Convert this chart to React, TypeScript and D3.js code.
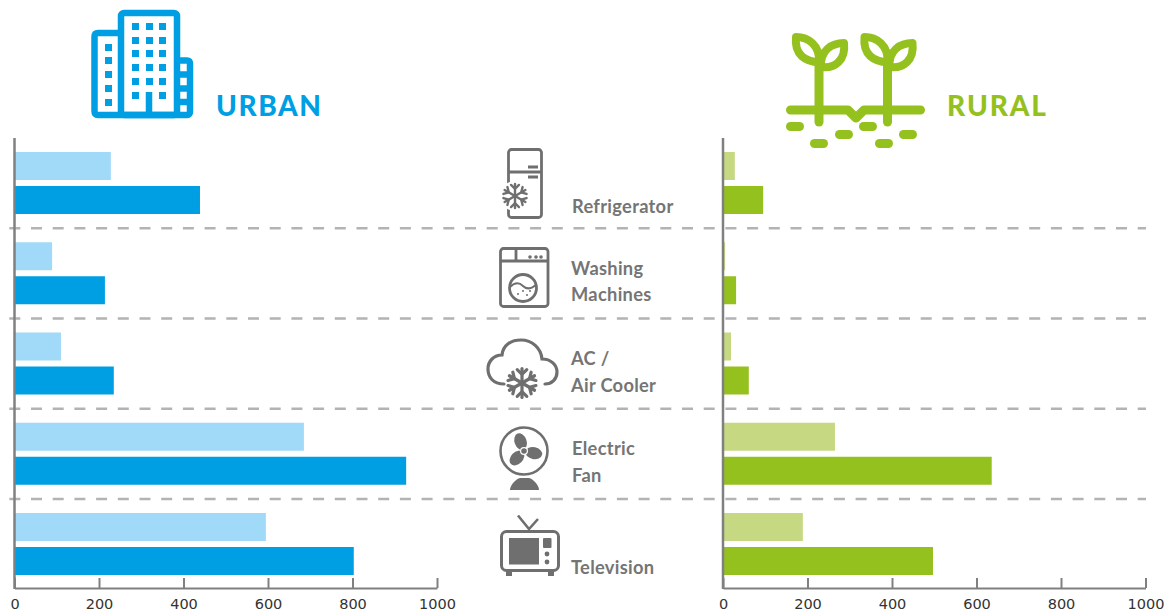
import React, { useEffect, useRef } from 'react';
import * as d3 from 'd3';

// Values. The source has no legend, so the two bars per row
// are just called light (upper) and dark (lower).
const categories = ['Refrigerator', 'Washing Machines', 'AC / Air Cooler', 'Electric Fan', 'Television'];
const seriesNames = ['light', 'dark'];
const urbanLight = [228, 89, 110, 685, 595];
const urbanDark = [439, 214, 235, 927, 803];
const ruralLight = [28, 5, 19, 265, 189];
const ruralDark = [95, 31, 61, 636, 497];
const tickValues = [0, 200, 400, 600, 800, 1000];

const BLUE = '#009fe3';
const BLUE_LIGHT = '#a1daf8';
const GREEN = '#95c11f';
const GREEN_LIGHT = '#c6d982';
const GRAY = '#6f6f6f';

// Six-armed snowflake used by the fridge and AC icons
const Snowflake = ({ cx, cy, r, sw }: { cx: number; cy: number; r: number; sw: number }) => (
  <g transform={`translate(${cx},${cy})`} stroke={GRAY} strokeWidth={sw} fill="none" strokeLinecap="round">
    {[0, 60, 120, 180, 240, 300].map(a => (
      <g key={a} transform={`rotate(${a})`}>
        <line x1={0} y1={0} x2={0} y2={-r} />
        <polyline points={`${-r * 0.33},${-r * 0.92} 0,${-r * 0.6} ${r * 0.33},${-r * 0.92}`} />
      </g>
    ))}
  </g>
);

const BuildingIcon = () => {
  const mainX = [132, 146, 159];
  const mainY = [23, 37, 50, 64, 78, 92];
  const leftY = [44, 57, 71, 85, 99];
  return (
    <g>
      <g fill="none" stroke={BLUE} strokeWidth={6.5} strokeLinejoin="round">
        <rect x={121} y={13} width={56} height={102} rx={3} />
        <path d="M121,33 H98 Q94.5,33 94.5,37 V111 Q94.5,115 98,115 H187 Q190,115 190,111 V64 Q190,60.5 187,60.5 H177" />
        <path d="M177,74.5 H190 M177,88.5 H190 M177,102 H190" />
        <path d="M149,92 V115" />
      </g>
      {mainY.map(y =>
        mainX.map(x =>
          y === 92 && x === 146 ? null : <rect key={`${x}-${y}`} x={x} y={y} width={7} height={7} fill={BLUE} />
        )
      )}
      {leftY.map(y => <rect key={y} x={105} y={y} width={7} height={7} fill={BLUE} />)}
    </g>
  );
};

const Sprout = ({ dx }: { dx: number }) => (
  <g transform={`translate(${dx},0)`} fill="none" stroke={GREEN} strokeWidth={8} strokeLinecap="round" strokeLinejoin="round">
    <path d="M819,62 V122" strokeWidth={9} />
    <path d="M796,37 C808,37 820,45 819,62 C806,62 794,55 796,37 Z" />
    <path d="M844,43 C832,43 820,50 821,67 C835,69 846,60 844,43 Z" />
  </g>
);

const PlantIcon = () => {
  const pebbles = [[786, 122], [835, 130], [810, 139], [859, 122], [899, 130], [875, 139]];
  return (
    <g>
      <Sprout dx={0} />
      <Sprout dx={68.5} />
      <path d="M790.5,110 H848 L856,118 L864,110 H920.5" fill="none" stroke={GREEN} strokeWidth={9} strokeLinecap="round" strokeLinejoin="round" />
      {pebbles.map(([x, y]) => <rect key={`${x}`} x={x} y={y} width={18} height={9} rx={4.5} fill={GREEN} />)}
    </g>
  );
};

const FridgeIcon = () => (
  <g fill="none" stroke={GRAY} strokeWidth={2.8}>
    <rect x={508.5} y={149.5} width={33} height={68} rx={3} />
    <path d="M508.5,172 H541 M528,167 H538 M528,177 H538" />
    <circle cx={515} cy={196} r={15} fill="#fff" stroke="none" />
    <Snowflake cx={515} cy={196} r={12} sw={2.4} />
  </g>
);

const WasherIcon = () => (
  <g fill="none" stroke={GRAY} strokeWidth={2.8}>
    <rect x={500.5} y={248.5} width={47.5} height={58} rx={3} />
    <path d="M500.5,261 H548 M516,248.5 V261" />
    <circle cx={523} cy={288} r={13.5} />
    <path d="M510,287 C515,282 519,282 523,286 C527,290 531,289 536,285" strokeWidth={2} />
    {[530, 536, 541].map(x => <circle key={x} cx={x} cy={257} r={1.8} fill={GRAY} stroke="none" />)}
    {[[518, 294], [523, 291], [527, 295], [530, 291]].map(([x, y]) => <circle key={x} cx={x} cy={y} r={1} fill={GRAY} stroke="none" />)}
  </g>
);

const CloudIcon = () => (
  <g>
    <path
      d="M504,384 C493,384 488,377 488,369 C488,361 494,355 502,355 C503,345 511,340 521,340 C532,340 541,348 542,359 C551,359 557,365 557,372 C557,379 552,384 545,384"
      fill="none" stroke={GRAY} strokeWidth={3.2} strokeLinecap="round"
    />
    <Snowflake cx={522} cy={383} r={14.5} sw={3.2} />
  </g>
);

const FanIcon = () => (
  <g>
    <circle cx={524} cy={451} r={23.5} fill="none" stroke={GRAY} strokeWidth={2.6} />
    {[-20, 102, 225].map(a => (
      <ellipse key={a} cx={524} cy={441} rx={6} ry={8.5} fill={GRAY} transform={`rotate(${a},524,451)`} />
    ))}
    <circle cx={524} cy={451} r={3.4} fill={GRAY} stroke="#fff" strokeWidth={1.2} />
    <path d="M510,490 C510,485 516,479 520,478 H529 C533,479 539,485 539,490 Z" fill={GRAY} />
  </g>
);

const TvIcon = () => (
  <g fill={GRAY}>
    <rect x={501.5} y={531.5} width={57} height={39} rx={5} fill="none" stroke={GRAY} strokeWidth={3} />
    <path d="M518,515.5 L529,529 L538,519" fill="none" stroke={GRAY} strokeWidth={2.6} />
    <rect x={509} y={538} width={30} height={26.5} />
    <rect x={543} y={538} width={8.5} height={10} rx={1} />
    <circle cx={547} cy={554} r={2.4} />
    <circle cx={547} cy={562} r={2.4} />
    <rect x={506} y={571} width={6} height={5} />
    <rect x={548} y={571} width={6} height={5} />
  </g>
);

const App = () => {
  const axisUrban = useRef<SVGGElement>(null);
  const axisRural = useRef<SVGGElement>(null);

  const x = d3.scaleLinear().domain([0, 1000]).range([0, 422.5]);
  const row = d3.scaleBand().domain(categories).range([138.5, 589.75]);
  const inner = d3.scaleBand().domain(seriesNames).range([10.5, 78.5]).paddingInner(6 / 34).paddingOuter(3 / 34);

  useEffect(() => {
    for (const ref of [axisUrban, axisRural]) {
      const g = d3.select(ref.current);
      g.call(d3.axisBottom(x).tickValues(tickValues).tickFormat(d3.format('d')).tickSizeInner(-10).tickSizeOuter(0).tickPadding(11));
      g.select('.domain').attr('stroke', '#808080').attr('stroke-width', 2);
      g.selectAll('.tick line').attr('stroke', '#808080').attr('stroke-width', 2);
      g.selectAll('.tick text').attr('fill', '#333').attr('font-size', 14.5).attr('font-family', '"DejaVu Sans", sans-serif');
    }
  }, []);

  const panel = (left: number, light: number[], dark: number[], cLight: string, cDark: string) => (
    <g transform={`translate(${left},0)`}>
      {categories.map((c, i) => (
        <g key={c} transform={`translate(0,${row(c)})`}>
          <rect x={0} y={inner('light')} width={x(light[i])} height={inner.bandwidth()} fill={cLight} />
          <rect x={0} y={inner('dark')} width={x(dark[i])} height={inner.bandwidth()} fill={cDark} />
        </g>
      ))}
      <line x1={0} x2={0} y1={138} y2={589} stroke="#808080" strokeWidth={2.5} />
    </g>
  );

  const labelProps = { fontFamily: 'Lato, sans-serif', fontWeight: 700, fontSize: 18.3, fill: '#757575', letterSpacing: 0.3 };

  return (
    <svg width={1169} height={614} style={{ position: 'absolute', left: 0, top: 0 }}>
      {categories.slice(0, -1).map(c => (
        <line key={c} x1={9.3} x2={1146} y1={row(c)! + row.step() - 0.5} y2={row(c)! + row.step() - 0.5}
          stroke="#b3b3b3" strokeWidth={2.5} strokeDasharray="11 10.7" />
      ))}

      {panel(14.5, urbanLight, urbanDark, BLUE_LIGHT, BLUE)}
      {panel(723, ruralLight, ruralDark, GREEN_LIGHT, GREEN)}
      <g ref={axisUrban} transform="translate(14.5,588)" />
      <g ref={axisRural} transform="translate(723,588)" />

      <BuildingIcon />
      <PlantIcon />
      <text x={216} y={116} fontFamily="Lato, sans-serif" fontWeight={900} fontSize={28} fill={BLUE} letterSpacing={1.6}>URBAN</text>
      <text x={947} y={116} fontFamily="Lato, sans-serif" fontWeight={900} fontSize={28} fill={GREEN} letterSpacing={1.9}>RURAL</text>

      <FridgeIcon />
      <WasherIcon />
      <CloudIcon />
      <FanIcon />
      <TvIcon />

      <text x={572} y={213} {...labelProps}>Refrigerator</text>
      <text x={571} y={275} {...labelProps}>Washing</text>
      <text x={571} y={301} {...labelProps}>Machines</text>
      <text x={571} y={365} {...labelProps}>AC /</text>
      <text x={571} y={392} {...labelProps}>Air Cooler</text>
      <text x={572} y={455} {...labelProps}>Electric</text>
      <text x={572} y={482} {...labelProps}>Fan</text>
      <text x={571} y={574} {...labelProps}>Television</text>
    </svg>
  );
};

export default App;
